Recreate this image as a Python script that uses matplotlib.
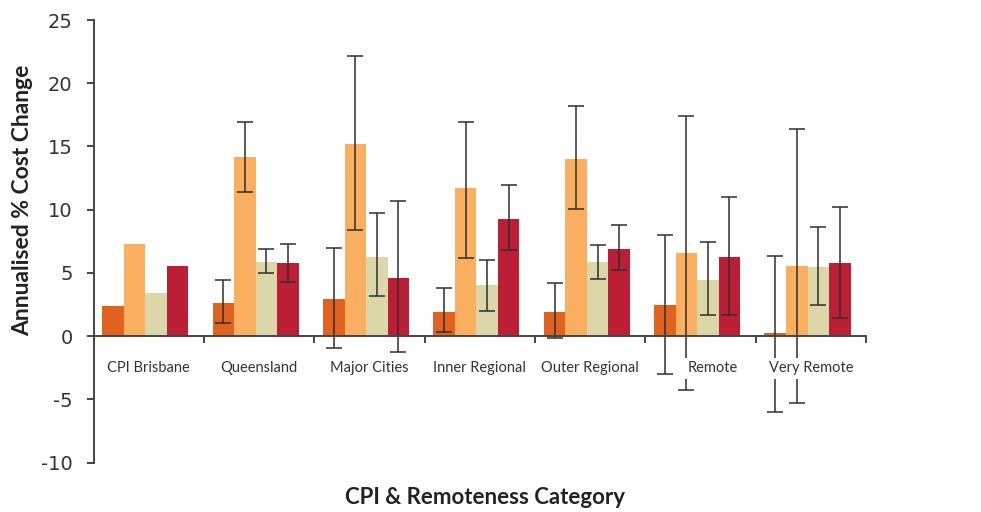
import numpy as np
import matplotlib
matplotlib.use("Agg")
import matplotlib.pyplot as plt
from matplotlib.transforms import offset_copy

plt.rcParams["axes.unicode_minus"] = False

categories = ["CPI Brisbane", "Queensland", "Major Cities", "Inner Regional",
              "Outer Regional", "Remote", "Very Remote"]

# four series per category: bar value, lower and upper confidence limits
s1 = [2.37, 2.66, 2.98, 1.95, 1.95, 2.50, 0.29]
s1_lo = [None, 1.03, -0.92, 0.32, -0.16, -3.00, -6.03]
s1_hi = [None, 4.41, 7.01, 3.83, 4.22, 8.02, 6.36]

s2 = [7.33, 14.20, 15.23, 11.68, 14.05, 6.60, 5.59]
s2_lo = [None, 11.41, 8.38, 6.22, 10.09, -4.28, -5.26]
s2_hi = [None, 16.92, 22.19, 16.97, 18.18, 17.42, 16.36]

s3 = [3.45, 5.90, 6.30, 4.01, 5.83, 4.48, 5.51]
s3_lo = [None, 4.98, 3.14, 2.01, 4.54, 1.66, 2.48]
s3_hi = [None, 6.88, 9.72, 6.04, 7.25, 7.42, 8.60]

s4 = [5.59, 5.75, 4.64, 9.30, 6.93, 6.30, 5.75]
s4_lo = [None, 4.27, -1.23, 6.83, 5.22, 1.66, 1.45]
s4_hi = [None, 7.27, 10.67, 11.97, 8.77, 10.99, 10.20]

colors = ["#E0621E", "#F9AF5F", "#DBD7A8", "#BC1F35"]

fig = plt.figure(figsize=(9.81, 5.12), dpi=100)
ax = fig.add_axes([93.5 / 981, 1 - 462.7 / 512, (866 - 93.5) / 981, (462.7 - 20) / 512])

x = np.arange(len(categories))
w = 0.195
series = [(s1, s1_lo, s1_hi), (s2, s2_lo, s2_hi), (s3, s3_lo, s3_hi), (s4, s4_lo, s4_hi)]
for i, (vals, lo, hi) in enumerate(series):
    xs = x + (i - 1.5) * w - 0.03
    ax.bar(xs, vals, width=w, color=colors[i], zorder=2)
    idx = [k for k in range(len(vals)) if lo[k] is not None]
    v = np.array([vals[k] for k in idx])
    err = [v - np.array([lo[k] for k in idx]), np.array([hi[k] for k in idx]) - v]
    ax.errorbar(xs[idx], v, yerr=err, fmt="none", ecolor="#2e2e2e",
                elinewidth=1.1, capsize=5.5, capthick=1.1, zorder=3)

ax.set_xlim(-0.5, 6.5)
ax.set_ylim(-10, 25)
ax.set_yticks(range(-10, 26, 5))

for s in ["top", "right"]:
    ax.spines[s].set_visible(False)
ax.spines["bottom"].set_position(("data", 0))
for s in ["left", "bottom"]:
    ax.spines[s].set_color("#444444")
    ax.spines[s].set_linewidth(1.4)
    ax.spines[s].set_zorder(4)

ax.set_xticks(np.arange(-0.5, 7, 1))
ax.set_xticklabels([])
ax.tick_params(axis="x", direction="out", length=5, width=1.4, color="#444444")
ax.tick_params(axis="y", direction="out", length=5, width=1.4, color="#444444",
               pad=10, labelsize=14, labelcolor="#333333")

# category names sit under the axis, masking any error bar that passes behind them
shift = [0, 0, 0, 0, 0, 12, 0]
for k, name in enumerate(categories):
    tr = offset_copy(ax.transData, fig=fig, x=shift[k] * 0.72, y=0, units="points")
    ax.text(x[k], -2.53, name, transform=tr, ha="center", va="center",
            fontsize=10.5, family="Lato", color="#333333", zorder=5,
            bbox=dict(boxstyle="square,pad=0.25", fc="white", ec="none"))

fig.text(23 / 981, 1 - 200 / 512, "Annualised % Cost Change", rotation=90,
         ha="center", va="center", fontsize=16.5, family="Lato",
         fontweight="bold", color="#222222")
fig.text(485 / 981, 1 - 497 / 512, "CPI & Remoteness Category",
         ha="center", va="center", fontsize=16, family="Lato",
         fontweight="bold", color="#222222")

fig.savefig("out.png", dpi=100)
